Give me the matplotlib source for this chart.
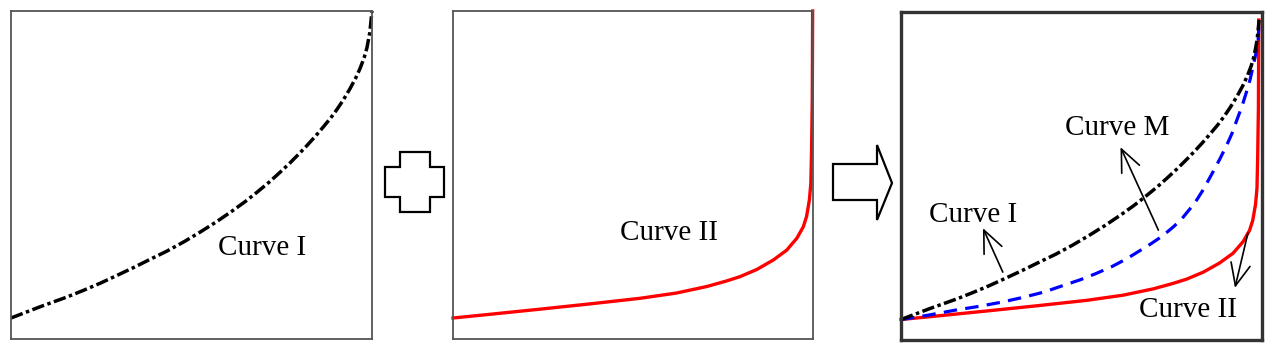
import matplotlib.pyplot as plt
from matplotlib.patches import Polygon

# curve data (x from 0 to 1, y relative to the box height)
curve1_x = [0, 0.04, 0.08, 0.155, 0.2, 0.247, 0.29, 0.338, 0.38, 0.432, 0.48,
            0.524, 0.57, 0.615, 0.65, 0.681, 0.717, 0.745, 0.773, 0.80, 0.820,
            0.843, 0.864, 0.885, 0.903, 0.92, 0.939, 0.955, 0.967, 0.978,
            0.986, 0.994, 1.0]
curve1_y = [0.064, 0.081, 0.098, 0.128, 0.148, 0.17, 0.192, 0.217, 0.24, 0.268,
            0.297, 0.326, 0.358, 0.392, 0.42, 0.447, 0.48, 0.508, 0.537, 0.567,
            0.59, 0.618, 0.645, 0.673, 0.70, 0.728, 0.763, 0.796, 0.825, 0.857,
            0.888, 0.935, 1.0]

curve2_x = [0, 0.1, 0.242, 0.38, 0.519, 0.62, 0.705, 0.76, 0.797, 0.844, 0.89,
            0.927, 0.955, 0.973, 0.982, 0.990, 0.994, 0.996, 0.998, 0.999]
curve2_y = [0.064, 0.075, 0.091, 0.107, 0.124, 0.14, 0.16, 0.177, 0.19, 0.212,
            0.241, 0.271, 0.307, 0.342, 0.373, 0.424, 0.475, 0.576, 0.729, 1.0]

curveM_x = [0, 0.078, 0.15, 0.217, 0.28, 0.34, 0.40, 0.452, 0.5, 0.543, 0.59,
            0.632, 0.697, 0.73, 0.761, 0.785, 0.807, 0.826, 0.844, 0.872, 0.89,
            0.91, 0.924, 0.937, 0.952, 0.966, 0.975, 0.983, 0.99, 0.997, 1.0]
curveM_y = [0.064, 0.078, 0.093, 0.105, 0.118, 0.133, 0.15, 0.17, 0.188, 0.207,
            0.23, 0.255, 0.30, 0.325, 0.354, 0.38, 0.41, 0.438, 0.47, 0.527,
            0.565, 0.61, 0.645, 0.685, 0.73, 0.78, 0.815, 0.855, 0.89, 0.93, 1.0]

label1 = 'Curve I'
label2 = 'Curve II'
labelM = 'Curve M'

W, H = 1272, 350
fig = plt.figure(figsize=(W / 100, H / 100), dpi=100)
plt.rcParams['font.family'] = ['Liberation Serif', 'DejaVu Serif']

dash_dot = (0, (3.6, 1.0, 1.0, 1.0))
dashed = (0, (4.2, 2.6))


def box(l, t, r, b):
    return [l / W, 1 - b / H, (r - l) / W, (b - t) / H]


def clean(ax, lw, col):
    ax.set_xticks([])
    ax.set_yticks([])
    for s in ax.spines.values():
        s.set_linewidth(lw)
        s.set_color(col)


# panel 1
ax1 = fig.add_axes(box(11, 11, 372, 339))
ax1.plot(curve1_x, curve1_y, color='black', lw=2.5, ls=dash_dot, clip_on=False)
ax1.set_xlim(0, 1)
ax1.set_ylim(0, 1)
clean(ax1, 1.3, '#555555')
ax1.text(0.695, 0.256, label1, transform=ax1.transAxes, ha='center',
         va='baseline', fontsize=21)

# panel 2
ax2 = fig.add_axes(box(453, 11, 813, 339))
ax2.plot(curve2_x, curve2_y, color='red', lw=2.4, clip_on=False)
ax2.set_xlim(0, 1)
ax2.set_ylim(0, 1)
clean(ax2, 1.3, '#555555')
ax2.text(0.6, 0.302, label2, transform=ax2.transAxes, ha='center',
         va='baseline', fontsize=21)

# panel 3 (combined)
ax3 = fig.add_axes(box(901, 12, 1262, 340))
ax3.plot(curve2_x, curve2_y, color='red', lw=2.4, clip_on=False)
ax3.plot(curveM_x, curveM_y, color='blue', lw=2.3, ls=dashed, clip_on=False)
ax3.plot(curve1_x, curve1_y, color='black', lw=2.5, ls=dash_dot, clip_on=False)
ax3.set_xlim(0, 1.008)
ax3.set_ylim(0, 1.025)
clean(ax3, 2.4, '#333333')

arrow_kw = dict(arrowstyle='->,head_length=0.8,head_width=0.35', lw=1.2,
                color='black', mutation_scale=20, shrinkA=0, shrinkB=0)
ax3.annotate('', xy=(0.227, 0.341), xytext=(0.282, 0.207),
             xycoords='axes fraction', arrowprops=arrow_kw)
ax3.annotate('', xy=(0.608, 0.588), xytext=(0.713, 0.335),
             xycoords='axes fraction', arrowprops=arrow_kw)
ax3.annotate('', xy=(0.925, 0.159), xytext=(0.961, 0.326),
             xycoords='axes fraction', arrowprops=arrow_kw)
ax3.text(0.199, 0.361, label1, transform=ax3.transAxes, ha='center',
         va='baseline', fontsize=21)
ax3.text(0.599, 0.625, labelM, transform=ax3.transAxes, ha='center',
         va='baseline', fontsize=21)
ax3.text(0.796, 0.069, label2, transform=ax3.transAxes, ha='center',
         va='baseline', fontsize=21)

# plus sign and block arrow between panels
over = fig.add_axes([0, 0, 1, 1])
over.set_xlim(0, W)
over.set_ylim(H, 0)
over.axis('off')
plus = [(400, 152), (430, 152), (430, 167), (444, 167), (444, 197), (430, 197),
        (430, 212), (400, 212), (400, 197), (385, 197), (385, 167), (400, 167)]
over.add_patch(Polygon(plus, closed=True, fill=False, ec='black', lw=1.6))
block = [(833, 164), (877, 164), (877, 145), (892, 183), (877, 220),
         (877, 200), (833, 200)]
over.add_patch(Polygon(block, closed=True, fill=False, ec='black', lw=1.6))

fig.savefig('out.png', dpi=100)
